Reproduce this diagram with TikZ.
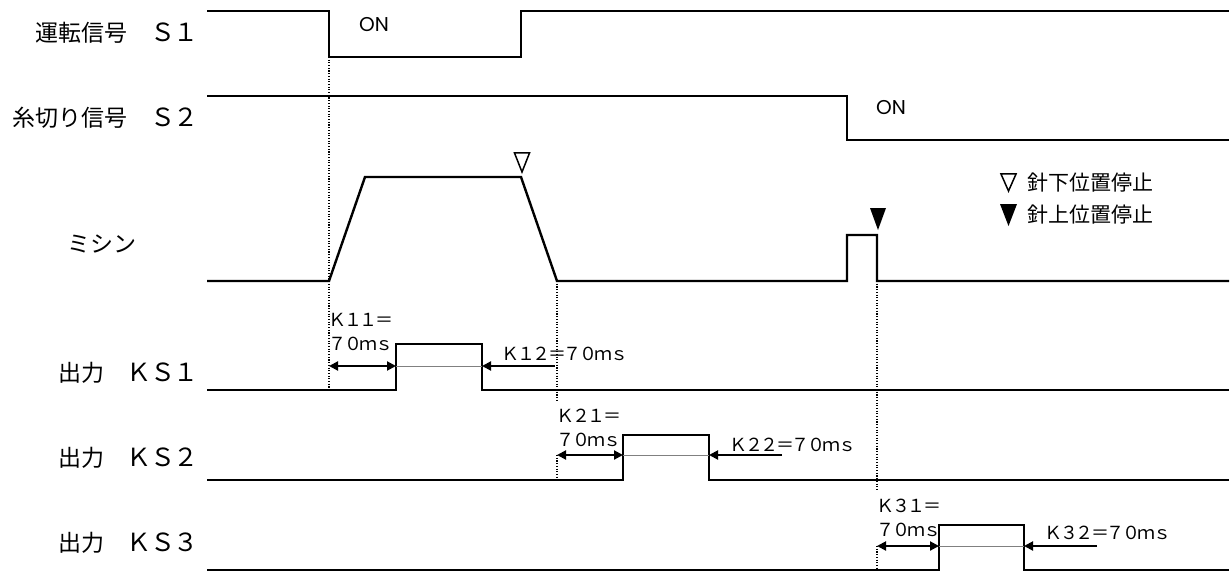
\documentclass[tikz,border=0pt]{standalone}
\usepackage{fontspec}
\setmainfont{Noto Sans CJK JP}
\newfontfamily\onfont{Poppins}
\usetikzlibrary{arrows.meta}

% equal-width cells, one per character
\newcommand{\mono}[2]{\def\monow{#1}\monoloop#2\relax}
\def\monoloop#1{\ifx#1\relax\else\makebox[\monow][c]{#1}\expandafter\monoloop\fi}
\newcommand{\rowid}[1]{{\fontsize{25}{25}\selectfont\mono{23.5pt}{#1}}}
\newcommand{\kval}[1]{\mono{15.5pt}{#1}}

\tikzset{
  sig/.style={line width=2.4pt},
  guide/.style={line width=1.1pt,dash pattern=on 1.1pt off 1.6pt},
  dly/.style={line width=2pt,-{Triangle[length=9pt,width=9pt]}},
  dlyboth/.style={line width=2pt,{Triangle[length=9pt,width=9pt]}-{Triangle[length=9pt,width=9pt]}},
  thru/.style={line width=0.8pt,gray},
  rowlbl/.style={anchor=east,inner sep=0pt,font=\fontsize{23}{23}\selectfont},
  klbl/.style={anchor=west,inner sep=0pt,align=left,font=\fontsize{18}{23.5}\selectfont},
  onlbl/.style={anchor=west,inner sep=0pt,font=\fontsize{20}{20}\onfont},
  lgdlbl/.style={anchor=west,inner sep=0pt,font=\fontsize{21}{21}\selectfont},
}

\begin{document}
\begin{tikzpicture}[x=1pt,y=-1pt]
  \useasboundingbox (0,0) rectangle (1230,572);
  % row labels
  \node[rowlbl] (s1lbl) at (198,33) {運転信号　\rowid{Ｓ１}};
  \node[rowlbl] (s2lbl) at (198,118) {糸切り信号　\rowid{Ｓ２}};
  \node[inner sep=0pt,font=\fontsize{23}{23}\selectfont] (msnlbl) at (102,244) {ミシン};
  \node[rowlbl] (ks1lbl) at (198,373) {出力　\rowid{ＫＳ１}};
  \node[rowlbl] (ks2lbl) at (198,458) {出力　\rowid{ＫＳ２}};
  \node[rowlbl] (ks3lbl) at (198,543) {出力　\rowid{ＫＳ３}};
  % signals
  \draw[sig] (207,11) -- (329,11) -- (329,57) -- (521,57) -- (521,11) -- (1229,11);
  \node[onlbl] (on1) at (359,24.5) {ON};
  \draw[sig] (207,96) -- (847,96) -- (847,140) -- (1229,140);
  \node[onlbl] (on2) at (876,107.5) {ON};
  \draw[sig] (207,281) -- (329,281) -- (365,177) -- (521,177) -- (557,281) -- (847,281)
    -- (847,235) -- (877,235) -- (877,281) -- (1229,281);
  \draw[line width=1.5pt] (514.5,153) -- (529.5,153) -- (522,172) -- cycle;
  \fill (870,208) -- (886,208) -- (878,230) -- cycle;
  % legend
  \draw[line width=1.5pt] (1001,174) -- (1016,174) -- (1008.5,191) -- cycle;
  \node[lgdlbl] (lgdn) at (1027,183) {針下位置停止};
  \fill (1000,204) -- (1017,204) -- (1008.5,226) -- cycle;
  \node[lgdlbl] (lgup) at (1027,215) {針上位置停止};
  % outputs
  \draw[sig] (207,390) -- (396,390) -- (396,344) -- (482,344) -- (482,390) -- (1229,390);
  \draw[sig] (207,480) -- (623,480) -- (623,435) -- (709,435) -- (709,480) -- (1229,480);
  \draw[sig] (207,570) -- (939,570) -- (939,525) -- (1024,525) -- (1024,570) -- (1229,570);
  % guides
  \draw[guide] (329,57) -- (329,390);
  \draw[guide] (557,281) -- (557,400); \draw[guide] (557,455) -- (557,480);
  \draw[guide] (877,281) -- (877,490); \draw[guide] (877,546) -- (877,570);
  % delays
  \draw[dlyboth] (329,366) -- (396,366); \draw[thru] (396,366) -- (482,366); \draw[dly] (555,366) -- (482,366);
  \node[klbl] (k11) at (330,332) {\kval{Ｋ１１＝}\\\kval{７０ｍｓ}};
  \node[klbl] (k12) at (503,354) {\kval{Ｋ１２＝７０ｍｓ}};
  \draw[dlyboth] (557,455) -- (623,455); \draw[thru] (623,455) -- (709,455); \draw[dly] (782,455) -- (709,455);
  \node[klbl] (k21) at (558,428) {\kval{Ｋ２１＝}\\\kval{７０ｍｓ}};
  \node[klbl] (k22) at (731,445) {\kval{Ｋ２２＝７０ｍｓ}};
  \draw[dlyboth] (877,546) -- (939,546); \draw[thru] (939,546) -- (1024,546); \draw[dly] (1097,546) -- (1024,546);
  \node[klbl] (k31) at (878,518) {\kval{Ｋ３１＝}\\\kval{７０ｍｓ}};
  \node[klbl] (k32) at (1046,533) {\kval{Ｋ３２＝７０ｍｓ}};
\end{tikzpicture}
\end{document}
